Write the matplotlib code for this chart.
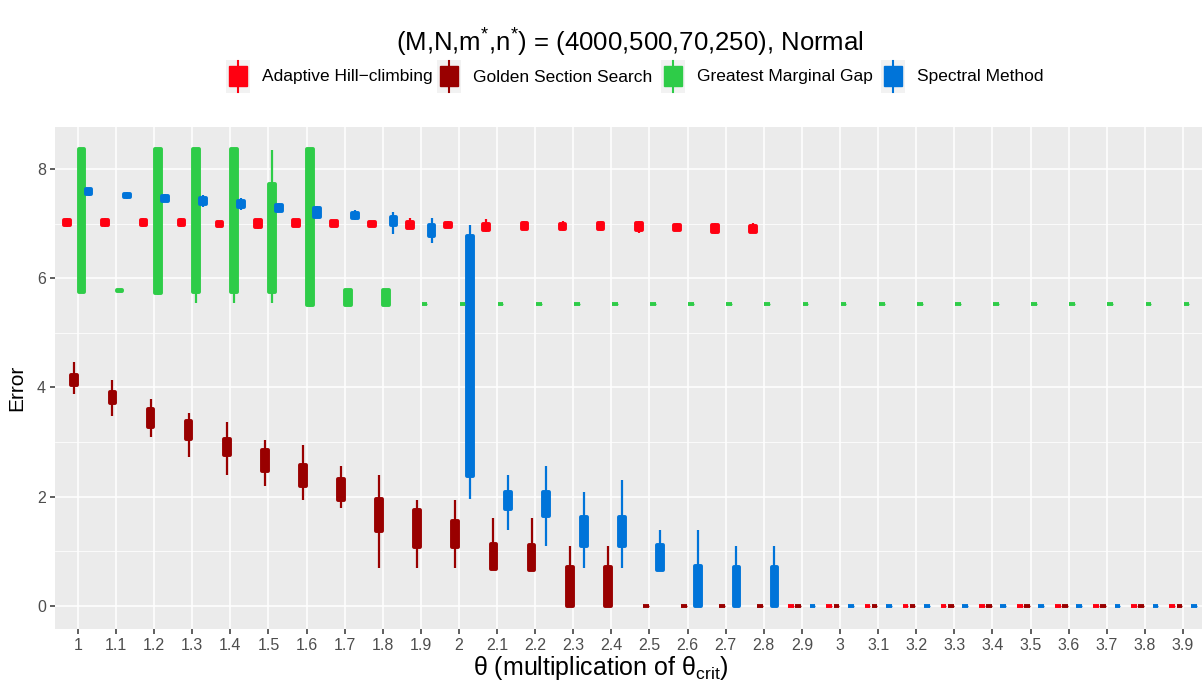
import numpy as np
import matplotlib
matplotlib.use("Agg")
import matplotlib.pyplot as plt
from matplotlib.patches import Rectangle
from matplotlib.lines import Line2D

plt.rcParams["font.family"] = ["Liberation Sans", "DejaVu Sans"]
plt.rcParams["mathtext.fontset"] = "custom"
plt.rcParams["mathtext.rm"] = "Liberation Sans"
plt.rcParams["mathtext.it"] = "Liberation Sans:italic"

theta = ["1", "1.1", "1.2", "1.3", "1.4", "1.5", "1.6", "1.7", "1.8", "1.9",
         "2", "2.1", "2.2", "2.3", "2.4", "2.5", "2.6", "2.7", "2.8", "2.9",
         "3", "3.1", "3.2", "3.3", "3.4", "3.5", "3.6", "3.7", "3.8", "3.9"]

methods = ["Adaptive Hill\u2212climbing", "Golden Section Search",
           "Greatest Marginal Gap", "Spectral Method"]
colors = ["#FF0011", "#990000", "#2ECC48", "#0074D9"]

# box statistics (lower whisker, q1, median, q3, upper whisker)
ahc_lo = [6.94, 6.94, 6.94, 6.94, 6.94, 6.91, 6.95, 6.96, 6.94, 6.92,
          6.94, 6.84, 6.89, 6.86, 6.87, 6.83, 6.86, 6.81, 6.84, 0,
          0, 0, 0, 0, 0, 0, 0, 0, 0, 0]
ahc_q1 = [6.97, 6.97, 6.97, 6.97, 6.96, 6.94, 6.96, 6.96, 6.95, 6.92,
          6.94, 6.89, 6.90, 6.90, 6.90, 6.89, 6.89, 6.84, 6.84, 0,
          0, 0, 0, 0, 0, 0, 0, 0, 0, 0]
ahc_med = [7.01, 7.01, 7.02, 7.01, 7.00, 7.00, 7.01, 7.00, 6.99, 6.98,
           6.98, 6.95, 6.96, 6.95, 6.96, 6.95, 6.93, 6.91, 6.89, 0,
           0, 0, 0, 0, 0, 0, 0, 0, 0, 0]
ahc_q3 = [7.06, 7.06, 7.07, 7.06, 7.03, 7.06, 7.06, 7.04, 7.03, 7.03,
          7.01, 7.00, 7.01, 7.00, 7.02, 7.01, 6.97, 6.98, 6.95, 0,
          0, 0, 0, 0, 0, 0, 0, 0, 0, 0]
ahc_hi = [7.10, 7.10, 7.10, 7.10, 7.03, 7.09, 7.09, 7.04, 7.03, 7.10,
          7.05, 7.08, 7.05, 7.05, 7.05, 7.05, 7.01, 7.01, 7.01, 0,
          0, 0, 0, 0, 0, 0, 0, 0, 0, 0]

gss_lo = [3.88, 3.47, 3.09, 2.72, 2.40, 2.20, 1.94, 1.79, 0.69, 0.69,
          0.69, 0.68, 0.66, 0, 0, 0, 0, 0, 0, 0,
          0, 0, 0, 0, 0, 0, 0, 0, 0, 0]
gss_q1 = [4.04, 3.71, 3.28, 3.05, 2.76, 2.47, 2.19, 1.93, 1.36, 1.08,
          1.07, 0.68, 0.66, 0, 0, 0, 0, 0, 0, 0,
          0, 0, 0, 0, 0, 0, 0, 0, 0, 0]
gss_med = [4.13, 3.80, 3.45, 3.20, 2.90, 2.65, 2.38, 2.12, 1.65, 1.40,
           1.30, 0.90, 0.88, 0.35, 0.35, 0, 0, 0, 0, 0,
           0, 0, 0, 0, 0, 0, 0, 0, 0, 0]
gss_q3 = [4.23, 3.91, 3.60, 3.39, 3.05, 2.86, 2.58, 2.32, 1.96, 1.75,
          1.56, 1.13, 1.11, 0.71, 0.71, 0, 0, 0, 0, 0,
          0, 0, 0, 0, 0, 0, 0, 0, 0, 0]
gss_hi = [4.46, 4.13, 3.79, 3.53, 3.36, 3.04, 2.94, 2.56, 2.40, 1.94,
          1.94, 1.61, 1.61, 1.10, 1.10, 0, 0, 0, 0, 0,
          0, 0, 0, 0, 0, 0, 0, 0, 0, 0]

gmg_lo = [5.74, 5.76, 5.70, 5.54, 5.54, 5.54, 5.48, 5.51, 5.51, 5.52,
          5.52, 5.52, 5.52, 5.52, 5.52, 5.52, 5.52, 5.52, 5.52, 5.52,
          5.52, 5.52, 5.52, 5.52, 5.52, 5.52, 5.52, 5.52, 5.52, 5.52]
gmg_q1 = [5.74, 5.76, 5.73, 5.74, 5.74, 5.74, 5.51, 5.51, 5.51, 5.52,
          5.52, 5.52, 5.52, 5.52, 5.52, 5.52, 5.52, 5.52, 5.52, 5.52,
          5.52, 5.52, 5.52, 5.52, 5.52, 5.52, 5.52, 5.52, 5.52, 5.52]
gmg_med = [7.00, 5.77, 7.00, 7.00, 7.00, 6.70, 7.00, 5.65, 5.65, 5.52,
           5.52, 5.52, 5.52, 5.52, 5.52, 5.52, 5.52, 5.52, 5.52, 5.52,
           5.52, 5.52, 5.52, 5.52, 5.52, 5.52, 5.52, 5.52, 5.52, 5.52]
gmg_q3 = [8.36, 5.78, 8.36, 8.36, 8.36, 7.72, 8.36, 5.79, 5.79, 5.52,
          5.52, 5.52, 5.52, 5.52, 5.52, 5.52, 5.52, 5.52, 5.52, 5.52,
          5.52, 5.52, 5.52, 5.52, 5.52, 5.52, 5.52, 5.52, 5.52, 5.52]
gmg_hi = [8.36, 5.78, 8.36, 8.36, 8.36, 8.34, 8.36, 5.79, 5.79, 5.52,
          5.52, 5.52, 5.52, 5.52, 5.52, 5.52, 5.52, 5.52, 5.52, 5.52,
          5.52, 5.52, 5.52, 5.52, 5.52, 5.52, 5.52, 5.52, 5.52, 5.52]

spm_lo = [7.50, 7.45, 7.39, 7.30, 7.25, 7.21, 7.10, 7.06, 6.81, 6.65,
          1.95, 1.39, 1.10, 0.69, 0.69, 0.66, 0, 0, 0, 0,
          0, 0, 0, 0, 0, 0, 0, 0, 0, 0]
spm_q1 = [7.55, 7.48, 7.42, 7.36, 7.30, 7.23, 7.13, 7.10, 6.98, 6.78,
          2.38, 1.78, 1.64, 1.09, 1.09, 0.66, 0, 0, 0, 0,
          0, 0, 0, 0, 0, 0, 0, 0, 0, 0]
spm_med = [7.60, 7.52, 7.47, 7.41, 7.36, 7.28, 7.20, 7.15, 7.05, 6.88,
           4.50, 1.95, 1.90, 1.35, 1.35, 0.90, 0.35, 0.35, 0.35, 0,
           0, 0, 0, 0, 0, 0, 0, 0, 0, 0]
spm_q3 = [7.64, 7.55, 7.51, 7.47, 7.42, 7.34, 7.28, 7.19, 7.13, 6.98,
          6.78, 2.09, 2.09, 1.62, 1.62, 1.11, 0.72, 0.70, 0.70, 0,
          0, 0, 0, 0, 0, 0, 0, 0, 0, 0]
spm_hi = [7.64, 7.57, 7.55, 7.52, 7.47, 7.37, 7.33, 7.25, 7.22, 7.10,
          6.98, 2.40, 2.56, 2.08, 2.31, 1.39, 1.39, 1.10, 1.10, 0,
          0, 0, 0, 0, 0, 0, 0, 0, 0, 0]

series = [
    (ahc_lo, ahc_q1, ahc_med, ahc_q3, ahc_hi),
    (gss_lo, gss_q1, gss_med, gss_q3, gss_hi),
    (gmg_lo, gmg_q1, gmg_med, gmg_q3, gmg_hi),
    (spm_lo, spm_q1, spm_med, spm_q3, spm_hi),
]

W, H = 1202, 690
fig = plt.figure(figsize=(W / 100, H / 100), dpi=100)
ax = fig.add_axes([55 / W, 1 - 629 / H, (W - 55) / W, (629 - 127) / H])
ax.set_facecolor("#EBEBEB")

x = np.arange(1, len(theta) + 1)
dodge = 0.75 / len(methods)
for k, (stat, col) in enumerate(zip(series, colors)):
    lo, q1, med, q3, hi = stat
    stats = [dict(whislo=a, q1=b, med=c, q3=d, whishi=e)
             for a, b, c, d, e in zip(lo, q1, med, q3, hi)]
    pos = x + (k - 1.5) * dodge
    ax.bxp(stats, positions=pos, widths=0.15, patch_artist=True,
           showfliers=False, showcaps=False, manage_ticks=False,
           boxprops=dict(facecolor=col, edgecolor=col, linewidth=2.8,
                         joinstyle="round"),
           whiskerprops=dict(color=col, linewidth=1.6, solid_capstyle="butt"),
           medianprops=dict(color=col, linewidth=1.0))

ax.set_xticks(x)
ax.set_xticklabels(theta)
ax.set_yticks([0, 2, 4, 6, 8])
ax.set_yticks([1, 3, 5, 7], minor=True)
ax.set_xlim(0.4, 30.5)
ax.set_ylim(-0.427, 8.77)
ax.set_axisbelow(True)
ax.grid(which="major", color="white", linewidth=1.1)
ax.grid(which="minor", axis="y", color="white", linewidth=0.55)
for s in ax.spines.values():
    s.set_visible(False)
ax.tick_params(which="major", length=3.6, width=1.1, color="#333333",
               labelcolor="#4D4D4D", labelsize=11.5, pad=3)
ax.tick_params(which="minor", length=0)

# axis titles placed where the reference has them
fig.text(17 / W, 1 - 388 / H, "Error", rotation=90, ha="center", va="center",
         fontsize=15)
fig.text(601 / W, 1 - 668 / H, r"θ (multiplication of θ$_{\mathrm{crit}}$)",
         ha="center", va="center", fontsize=18)

fig.text(630 / W, 1 - 43 / H,
         r"(M,N,$\mathrm{m}^{*}$,$\mathrm{n}^{*}$) = (4000,500,70,250), Normal",
         ha="center", va="center", fontsize=18.5)

# legend drawn in figure pixels
key_x = [228, 439, 663, 883]
ky0, ky1 = 60, 93
for kx, name, col in zip(key_x, methods, colors):
    fig.patches.append(Rectangle((kx - 2, H - ky1), 24, ky1 - ky0,
                                 transform=None, facecolor="#F2F2F2",
                                 edgecolor="none"))
    fig.lines.append(Line2D([kx + 10, kx + 10], [H - ky1 + 1, H - ky0 - 1],
                            transform=None, color=col, linewidth=1.5))
    fig.patches.append(Rectangle((kx + 1, H - 86), 18, 20, transform=None,
                                 facecolor=col, edgecolor=col, linewidth=1.0))
    fig.text((kx + 34) / W, 1 - 77 / H, name, ha="left", va="center",
             fontsize=12.5)

fig.savefig("out.png", dpi=100)
